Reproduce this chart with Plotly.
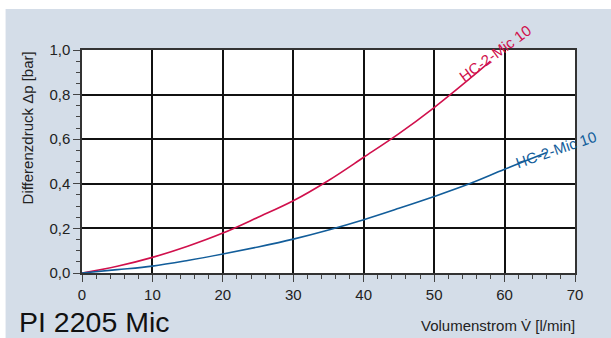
import plotly.graph_objects as go

# Data
red_x = [0, 5, 10, 15, 20, 25, 30, 35, 40, 45, 50, 55, 58]
red_y = [0, 0.03, 0.07, 0.12, 0.179, 0.25, 0.324, 0.415, 0.519, 0.625, 0.742, 0.87, 0.95]
blue_x = [0, 5, 10, 15, 20, 25, 30, 35, 40, 45, 50, 55, 60, 66]
blue_y = [0, 0.015, 0.031, 0.056, 0.085, 0.117, 0.152, 0.193, 0.239, 0.29, 0.343, 0.40, 0.465, 0.54]
series_name = "HC-2-Mic 10"
x_ticks = [0, 10, 20, 30, 40, 50, 60, 70]
y_ticks = [0.0, 0.2, 0.4, 0.6, 0.8, 1.0]

RED = "#d0104c"
BLUE = "#125d9a"
BG = "#d4dde8"
FONT = "Liberation Sans, Arial, sans-serif"

fig = go.Figure()
fig.add_trace(go.Scatter(x=red_x, y=red_y, mode="lines", line=dict(color=RED, width=1.6, shape="spline"),
                         cliponaxis=False, hoverinfo="skip"))
fig.add_trace(go.Scatter(x=blue_x, y=blue_y, mode="lines", line=dict(color=BLUE, width=1.6, shape="spline"),
                         cliponaxis=False, hoverinfo="skip"))

axis_common = dict(showgrid=True, gridcolor="#111111", gridwidth=1.5,
                   showline=True, linecolor="#333333", linewidth=1.5, mirror=True,
                   ticks="outside", ticklen=7, tickcolor="#444444", tickwidth=1.2,
                   zeroline=False, tickfont=dict(family=FONT, size=15, color="#222222"))

fig.update_xaxes(range=[0, 70], tickvals=x_ticks, fixedrange=True,
                 minor=dict(dtick=2, ticks="outside", ticklen=4, tickcolor="#444444", tickwidth=1.2, showgrid=False),
                 **axis_common)
fig.update_yaxes(range=[0, 1.0], tickvals=y_ticks, tickformat=".1f", fixedrange=True,
                 minor=dict(dtick=0.05, ticks="outside", ticklen=4, tickcolor="#444444", tickwidth=1.2, showgrid=False),
                 **axis_common)

W, H = 611, 338
L, R, T, B = 81.5, 36, 50, 64.7
pw, ph = W - L - R, H - T - B

def px_to_paper(px, py):
    return (px - L) / pw, (H - B - py) / ph

x0, _ = px_to_paper(5, 0)
_, ytop = px_to_paper(0, 9)

fig.update_layout(
    width=W, height=H, separators=",.",
    margin=dict(l=L, r=R, t=T, b=B, autoexpand=False),
    paper_bgcolor=BG, plot_bgcolor="white", showlegend=False,
    font=dict(family=FONT, color="#222222"),
    shapes=[
        dict(type="rect", xref="paper", yref="paper", x0=-1, x1=2, y0=ytop, y1=2,
             fillcolor="white", line=dict(width=0), layer="below"),
        dict(type="rect", xref="paper", yref="paper", x0=-1, x1=x0, y0=-1, y1=2,
             fillcolor="white", line=dict(width=0), layer="below"),
    ],
    annotations=[
        dict(text=series_name, x=58.6, y=0.985, xref="x", yref="y", showarrow=False,
             textangle=-36, font=dict(family=FONT, size=15, color=RED)),
        dict(text=series_name, x=67.3, y=0.553, xref="x", yref="y", showarrow=False,
             textangle=-19, font=dict(family=FONT, size=15, color=BLUE)),
        dict(text="Differenzdruck Δp [bar]", x=(27 - L) / pw, y=(H - B - 128) / ph, xref="paper", yref="paper",
             xanchor="center", yanchor="middle", textangle=-90, showarrow=False,
             font=dict(family=FONT, size=15, color="#222222")),
        dict(text="PI 2205 Mic", x=(16 - L) / pw, y=(H - B - 322) / ph, xref="paper", yref="paper",
             xanchor="left", yanchor="middle", showarrow=False,
             font=dict(family=FONT, size=28.5, color="#111111")),
        dict(text="Volumenstrom V̇ [l/min]", x=(577 - L) / pw, y=(H - B - 326) / ph, xref="paper", yref="paper",
             xanchor="right", yanchor="middle", showarrow=False,
             font=dict(family=FONT, size=15, color="#222222")),
    ],
)

fig.write_html("out.html")
